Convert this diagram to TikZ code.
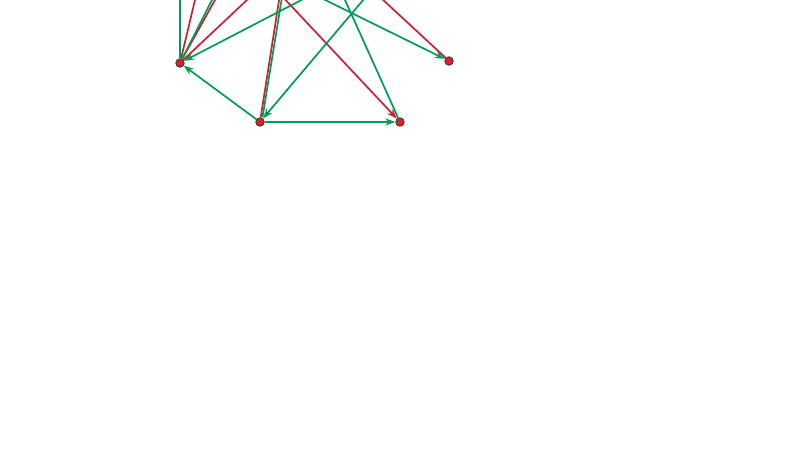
\documentclass[tikz,border=0pt]{standalone}
\usetikzlibrary{arrows.meta}
\newlength{\du}
\setlength{\du}{0.5\unitlength}
\definecolor{vertexred}{rgb}{0.850000, 0.130000, 0.180000}
\definecolor{edgered}{rgb}{0.800000, 0.120000, 0.200000}
\definecolor{edgegreen}{rgb}{0.000000, 0.610000, 0.330000}
\tikzset{
  vertex/.style={circle,draw=black!80,fill=vertexred,line width=0.4pt,inner sep=0pt,minimum size=8.5\du},
  redline/.style={draw=edgered,line width=0.85pt},
  greenline/.style={draw=edgegreen,line width=0.85pt},
  headend/.style={-{Stealth[length=5pt,width=3.6pt]}}
}

\begin{document}
\begin{tikzpicture}
\pgftransformxscale{1.000000}
\pgftransformyscale{-1.000000}
\useasboundingbox (0\du,0\du) rectangle (800\du,450\du);
\clip (0\du,0\du) rectangle (800\du,450\du);
% vertices in view
\node[vertex] (n1) at (180.000000\du,63.000000\du){};
\node[vertex] (n2) at (449.000000\du,61.000000\du){};
\node[vertex] (n3) at (260.000000\du,122.000000\du){};
\node[vertex] (n4) at (400.000000\du,122.000000\du){};
% vertices above the frame
\node[vertex] (t1) at (180.000000\du,-40.000000\du){};
\node[vertex] (t2) at (204.500000\du,-40.000000\du){};
\node[vertex] (t3) at (232.300000\du,-40.000000\du){};
\node[vertex] (t4) at (237.200000\du,-40.000000\du){};
\node[vertex] (t5) at (289.500000\du,-40.000000\du){};
\node[vertex] (t6) at (280.000000\du,-6.000000\du){};
\node[vertex] (t7) at (313.000000\du,-6.000000\du){};
\node[vertex] (t8) at (327.000000\du,-40.000000\du){};
\node[vertex] (t9) at (397.000000\du,-40.000000\du){};
\node[vertex] (t10) at (340.000000\du,-40.000000\du){};
% red edges
\draw[redline] (n1)--(t2);
\draw[redline] (n1)--(t4);
\draw[redline] (n1)--(t5);
\draw[redline] (n3)--(t6);
\draw[redline,headend] (t6)--(n4);
\draw[redline] (t10)--(n2);
% green edges
\draw[greenline] (n1)--(t1);
\draw[greenline] (n1)--(t3);
\draw[greenline,headend] (t7)--(n1);
\draw[greenline,headend] (t7)--(n2);
\draw[greenline] ([xshift=2.5\du]n3.north)--([xshift=2.5\du]t6.center);
\draw[greenline,headend] (t9)--(n3);
\draw[greenline] (n4)--(t8);
\draw[greenline,headend] (n3)--(n1);
\draw[greenline,headend] (n3)--(n4);
\end{tikzpicture}
\end{document}
